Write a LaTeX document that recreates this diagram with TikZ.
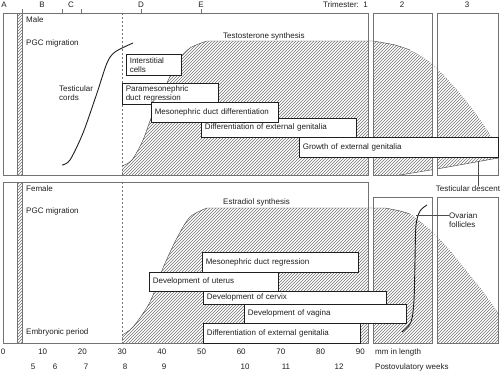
\documentclass[tikz,border=0pt]{standalone}
\usepackage{fontspec}
\newfontfamily\helv{Liberation Sans}
\usepackage{tikz}
\usetikzlibrary{patterns}
\definecolor{framegray}{gray}{0.45}
\definecolor{inkgray}{gray}{0.12}
\tikzstyle{hatch} = [
    pattern=north east lines,
    pattern color=black!55
]
\tikzstyle{tribox} = [
    draw=framegray,
    line width=0.6pt
]
\tikzset{
    lbox/.style={draw=inkgray, fill=white, line width=0.55pt, anchor=north west,
        align=left, inner xsep=3.5pt, inner ysep=0pt, text=inkgray,
        font=\helv\fontsize{8}{9}\selectfont},
    txt/.style={anchor=west, inner sep=0pt, text=inkgray, align=left,
        font=\helv\fontsize{8}{9}\selectfont},
    num/.style={inner sep=0pt, text=inkgray, font=\helv\fontsize{8}{9}\selectfont},
    curve/.style={line width=0.9pt, inkgray},
    edge/.style={line width=0.45pt, black!70}
}

\begin{document}
\begin{tikzpicture}[x=1pt, y=-1pt]
    \useasboundingbox (0,0) rectangle (500,370);
    % Hatched areas, clipped to the trimester boxes
    \begin{scope}
        \clip (3,13) rectangle (368,175) (373,13) rectangle (432,175) (437,13) rectangle (498,175);
        \fill[hatch] (122,175) -- (122,166)
            -- plot[smooth] coordinates {(122,166) (132,160) (143,140) (153,113) (165,87) (178,61) (190,48) (207,41)}
            -- (373,41)
            -- plot[smooth] coordinates {(373,41) (395,45) (415,53) (432,64) (455,88) (475,113) (500,150)}
            -- (500,158) -- (400,175) -- cycle;
    \end{scope}
    \begin{scope}
        \clip (3,182) rectangle (368,343) (373,197) rectangle (432,343) (437,197) rectangle (498,343);
        \fill[hatch] (122,343) -- (122,335)
            -- plot[smooth] coordinates {(122,335) (133,327) (150,302) (163,268) (177,238) (190,217) (207,208)}
            -- (385,208)
            -- plot[smooth] coordinates {(385,208) (410,214) (432,232) (450,251) (467,272) (483,292) (500,316)}
            -- (500,343) -- cycle;
    \end{scope}
    % Outlines of the hormone curves
    \draw[edge] (122,166) plot[smooth] coordinates {(122,166) (132,160) (143,140) (153,113) (165,87) (178,61) (190,48) (207,41)} -- (373,41)
        plot[smooth] coordinates {(373,41) (395,45) (410,50)};
    \draw[edge, dotted] plot[smooth] coordinates {(410,50) (432,64) (455,88) (475,113) (492,138)};
    \draw[edge] (122,335) plot[smooth] coordinates {(122,335) (133,327) (150,302) (163,268) (177,238) (190,217) (207,208)} -- (385,208)
        plot[smooth] coordinates {(385,208) (400,211) (410,214)};
    \draw[edge, dotted] plot[smooth] coordinates {(410,214) (432,232) (450,251) (467,272) (483,292) (500,316)};
    \draw[edge] (400,175) -- (432,169.8) (437,169) -- (498,158);
    % PGC stripes
    \fill[hatch] (17,13) rectangle (22,175);
    \fill[hatch] (17,182) rectangle (22,343);
    \draw[framegray, line width=0.5pt] (17,13) -- (17,175) (22,13) -- (22,175) (17,182) -- (17,343) (22,182) -- (22,343);
    % Embryonic period boundary
    \draw[framegray, dash pattern=on 2pt off 2pt, line width=0.5pt] (122,13) -- (122,175) (122,182) -- (122,343);
    % Trimester boxes
    \draw[tribox] (3,13) rectangle (368,175) (373,13) rectangle (432,175) (437,13) rectangle (498,175);
    \draw[tribox] (3,182) rectangle (368,343) (373,197) rectangle (432,343) (437,197) rectangle (498,343);
    % Stages on top
    \foreach \x in {22,62,81,141,201}
        \draw[framegray, line width=0.6pt] (\x,9) -- (\x,13);
    \foreach \stage/\x in {A/4,B/42,C/71,D/141,E/201}
        \node[num] (stage\stage) at (\x,5) {\stage};
    \node[num, anchor=east] (tri1) at (368,5) {Trimester:\ \ 1};
    \node[num] (tri2) at (402,5) {2};
    \node[num] (tri3) at (467,5) {3};
    % Male
    \node[txt] (male) at (26,20) {Male};
    \node[txt] (pgcm) at (26,43) {PGC migration};
    \node[txt] (cords) at (59,93) {Testicular\\cords};
    \draw[curve] plot[smooth] coordinates {(62,165) (70,160) (83,133) (97,93) (107,63) (115,52) (133,43)};
    \node[txt] (testo) at (223,36) {Testosterone synthesis};
    \node[lbox, text width=48pt, minimum height=21pt] (inter) at (126,54) {Interstitial\\cells};
    \node[lbox, text width=89pt, minimum height=21pt] (pdr) at (122,83) {Paramesonephric\\duct regression};
    \node[lbox, text width=148pt, minimum height=19pt] (degm) at (201,118) {Differentiation of external genitalia};
    \node[lbox, text width=120pt, minimum height=20pt] (mdd) at (151,102) {Mesonephric duct differentiation};
    \node[lbox, text width=192pt, minimum height=20pt] (geg) at (299,137) {Growth of external genitalia};
    \node[num] (desc) at (468,189) {Testicular descent};
    \coordinate (descent) at (478,161);
    \draw[edge] (descent) -- (descent |- desc.north);
    % Female
    \node[txt] (female) at (26,189) {Female};
    \node[txt] (pgcf) at (26,211) {PGC migration};
    \node[txt] (embryo) at (26,332) {Embryonic period};
    \node[txt] (estra) at (223,202) {Estradiol synthesis};
    \node[lbox, text width=149pt, minimum height=20pt] (mdr) at (202,252) {Mesonephric duct regression};
    \node[lbox, text width=122pt, minimum height=19pt] (uterus) at (149,272) {Development of uterus};
    \node[lbox, text width=176pt, minimum height=13pt] (cervix) at (203,291) {Development of cervix};
    \node[lbox, text width=155pt, minimum height=19pt] (vagina) at (244,304) {Development of vagina};
    \node[lbox, text width=150pt, minimum height=20pt] (degf) at (203,323) {Differentiation of external genitalia};
    \draw[curve] plot[smooth] coordinates {(427,205) (420,211) (416,225) (415,260) (414,300) (411,322) (402,332)};
    \node[txt] (ovar) at (449,220) {Ovarian\\follicles};
    \coordinate (follicle) at (416,215);
    \draw[edge] (follicle) -- (follicle -| ovar.west);
    % Scales
    \foreach \mm in {0,10,...,90}
        \node[num] (mm\mm) at ({3+3.97*\mm},352) {\mm};
    \node[txt] (mmlen) at (375,352) {mm in length};
    \foreach \wk/\x in {5/33,6/55,7/86,8/125,9/164,10/245,11/286,12/339}
        \node[num] (wk\wk) at (\x,367) {\wk};
    \node[txt] (weeks) at (375,367) {Postovulatory weeks};
\end{tikzpicture}
\end{document}
